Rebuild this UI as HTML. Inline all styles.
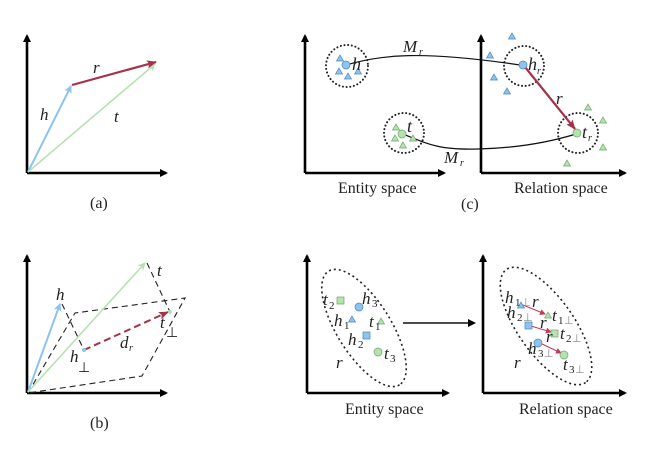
<!DOCTYPE html>
<html><head><meta charset="utf-8"><style>
html,body{margin:0;padding:0;background:#fff;}
svg{display:block;}
text{font-family:"Liberation Serif",serif;fill:#222;}
.i{font-style:italic;}
.n{font-style:normal;}
</style></head><body>
<svg width="651" height="454" viewBox="0 0 651 454" xmlns="http://www.w3.org/2000/svg">
<defs>
<marker id="ak" markerWidth="8" markerHeight="8" refX="6" refY="4" orient="auto" markerUnits="userSpaceOnUse"><path d="M0,0 L8,4 L0,8 z" fill="#000"/></marker>
<marker id="ab" markerWidth="8" markerHeight="8" refX="7" refY="4" orient="auto" markerUnits="userSpaceOnUse"><path d="M0,0 L8,4 L0,8 L2,4 z" fill="#8ec3ec"/></marker>
<marker id="ag" markerWidth="8" markerHeight="8" refX="7" refY="4" orient="auto" markerUnits="userSpaceOnUse"><path d="M0,0 L8,4 L0,8 L2,4 z" fill="#b5e3b0"/></marker>
<marker id="ar" markerWidth="10" markerHeight="8" refX="9" refY="4" orient="auto" markerUnits="userSpaceOnUse"><path d="M0,0 L10,4 L0,8 L2,4 z" fill="#a5324a"/></marker>
<marker id="ars" markerWidth="6" markerHeight="6" refX="5" refY="3" orient="auto" markerUnits="userSpaceOnUse"><path d="M0,0 L6,3 L0,6 z" fill="#c23a5a"/></marker>
</defs>
<g stroke="#000" stroke-width="2.6" fill="none">
<path d="M27,173 V36" marker-end="url(#ak)"/><path d="M27,173 H166" marker-end="url(#ak)"/>
<path d="M27,393 V256" marker-end="url(#ak)"/><path d="M27,393 H166" marker-end="url(#ak)"/>
<path d="M305,173 V36" marker-end="url(#ak)"/><path d="M305,173 H444" marker-end="url(#ak)"/>
<path d="M481,173 V36" marker-end="url(#ak)"/><path d="M481,173 H625" marker-end="url(#ak)"/>
<path d="M307,393 V256" marker-end="url(#ak)"/><path d="M307,393 H448" marker-end="url(#ak)"/>
<path d="M483,393 V256" marker-end="url(#ak)"/><path d="M483,393 H625" marker-end="url(#ak)"/>
</g>
<!-- panel a -->
<line x1="28" y1="172" x2="71" y2="86" stroke="#8ec3ec" stroke-width="2" marker-end="url(#ab)"/>
<line x1="28" y1="172" x2="155" y2="64" stroke="#b5e3b0" stroke-width="1.6" marker-end="url(#ag)"/>
<line x1="72" y1="85" x2="156" y2="62" stroke="#a5324a" stroke-width="2.2" marker-end="url(#ar)"/>
<text x="40" y="120" class="i" font-size="17">h</text>
<text x="93" y="73" class="i" font-size="17">r</text>
<text x="114" y="122" class="i" font-size="17">t</text>
<text x="90" y="208" font-size="16">(a)</text>
<!-- panel b -->
<g stroke="#222" stroke-width="1.1" fill="none" stroke-dasharray="6,4">
<path d="M28,393 L75,313 L185,298 L142,376 Z"/>
<line x1="62" y1="304" x2="84" y2="350"/>
<line x1="147" y1="263" x2="170" y2="312"/>
</g>
<line x1="28" y1="392" x2="60" y2="304" stroke="#8ec3ec" stroke-width="2" marker-end="url(#ab)"/>
<line x1="28" y1="392" x2="145" y2="263" stroke="#b5e3b0" stroke-width="1.6" marker-end="url(#ag)"/>
<line x1="84" y1="350" x2="168" y2="312" stroke="#a5324a" stroke-width="2" stroke-dasharray="7,4" marker-end="url(#ar)"/>
<circle cx="84" cy="350" r="2" fill="#8ec3ec"/><circle cx="170" cy="312" r="2" fill="#b5e3b0"/>
<text x="56" y="300" class="i" font-size="17">h</text>
<text x="157" y="276" class="i" font-size="17">t</text>
<text x="160" y="328" class="i" font-size="17">t</text><text x="166" y="337" font-size="14">⊥</text>
<text x="70" y="362" class="i" font-size="17">h</text><text x="78" y="372" font-size="14">⊥</text>
<text x="120" y="348" class="i" font-size="17">d</text><text x="129" y="351" class="i" font-size="10">r</text>
<text x="90" y="428" font-size="16">(b)</text>
<!-- panel c -->
<g fill="none" stroke="#222" stroke-width="2" stroke-dasharray="0.1,3.6" stroke-linecap="round">
<circle cx="347" cy="66" r="21"/><circle cx="404" cy="133" r="20"/>
<circle cx="524" cy="66" r="20"/><circle cx="578" cy="133" r="20"/>
</g>
<path d="M346,65 C380,55 420,50 520,65" stroke="#111" stroke-width="1.2" fill="none"/>
<path d="M403,134 C430,145 440,150 478,149 C520,148 550,142 576,134" stroke="#111" stroke-width="1.2" fill="none"/>
<line x1="525" y1="67" x2="575" y2="129" stroke="#a5324a" stroke-width="2.2" marker-end="url(#ar)"/>
<g fill="#8ec3ec" stroke="#4a86c0" stroke-width="0.7">
<circle cx="346" cy="65" r="4"/><circle cx="523" cy="65" r="4"/>
<path d="M340,55 l3.5,6 h-7z M339,68 l3.5,6 h-7z M348,73 l3.5,6 h-7z M358,68 l3.5,6 h-7z"/>
<path d="M512,33 l3.5,6 h-7z M490,52 l3.5,6 h-7z M494,74 l3.5,6 h-7z M507,88 l3.5,6 h-7z"/>
</g>
<g fill="#b5e3b0" stroke="#6aa865" stroke-width="0.7">
<circle cx="402" cy="134" r="4"/><circle cx="577" cy="133" r="4"/>
<path d="M396,124 l3.5,6 h-7z M395,135 l3.5,6 h-7z M403,142 l3.5,6 h-7z M413,135 l3.5,6 h-7z"/>
<path d="M588,104 l3.5,6 h-7z M603,117 l3.5,6 h-7z M603,144 l3.5,6 h-7z M567,160 l3.5,6 h-7z"/>
</g>
<text x="352" y="70" class="i" font-size="18">h</text>
<text x="407" y="132" class="i" font-size="18">t</text>
<text x="528" y="70" class="i" font-size="18">h</text><text x="537" y="74" class="i" font-size="10">r</text>
<text x="582" y="138" class="i" font-size="18">t</text><text x="588" y="141" class="i" font-size="10">r</text>
<text x="556" y="104" class="i" font-size="17">r</text>
<text x="403" y="52" class="i" font-size="17">M</text><text x="419" y="55" class="i" font-size="10">r</text>
<text x="444" y="163" class="i" font-size="17">M</text><text x="460" y="166" class="i" font-size="10">r</text>
<text x="338" y="193" font-size="16">Entity space</text>
<text x="514" y="193" font-size="16">Relation space</text>
<text x="461" y="209" font-size="16">(c)</text>
<!-- panel d -->
<g fill="none" stroke="#222" stroke-width="1.6" stroke-dasharray="2,3">
<ellipse cx="364" cy="328" rx="67" ry="27" transform="rotate(58 364 328)"/>
<ellipse cx="546" cy="326" rx="69" ry="28" transform="rotate(55 546 326)"/>
</g>
<line x1="403" y1="323" x2="474" y2="323" stroke="#111" stroke-width="1.5" marker-end="url(#ak)"/>
<g stroke="#c23a5a" stroke-width="1">
<line x1="523" y1="305" x2="545" y2="314" marker-end="url(#ars)"/>
<line x1="531" y1="326" x2="551" y2="332" marker-end="url(#ars)"/>
<line x1="540" y1="343" x2="561" y2="353" marker-end="url(#ars)"/>
</g>
<g fill="#8ec3ec" stroke="#4a86c0" stroke-width="0.7">
<circle cx="359" cy="307" r="4"/><rect x="363" y="332" width="7" height="7"/>
<path d="M352,316 l3.5,6 h-7z"/>
<path d="M521,302 l3.5,6 h-7z"/><rect x="525" y="322" width="7" height="7"/><circle cx="538" cy="343" r="4"/>
</g>
<g fill="#b5e3b0" stroke="#6aa865" stroke-width="0.7">
<rect x="337" y="297" width="7" height="7"/><path d="M381,318 l3.5,6 h-7z"/><circle cx="378" cy="352" r="4"/>
<path d="M548,312 l3.5,6 h-7z"/><rect x="551" y="330" width="7" height="7"/><circle cx="564" cy="355" r="4"/>
</g>
<g font-size="17">
<text x="323" y="305" class="i">t</text><text x="362" y="304" class="i">h</text>
<text x="334" y="326" class="i">h</text><text x="369" y="327" class="i">t</text>
<text x="348" y="345" class="i">h</text><text x="384" y="359" class="i">t</text>
<text x="336" y="368" class="i">r</text>
<text x="505" y="303" class="i">h</text><text x="532" y="307" class="i">r</text>
<text x="507" y="318" class="i">h</text><text x="540" y="328" class="i">r</text>
<text x="552" y="321" class="i">t</text><text x="546" y="342" class="i">r</text>
<text x="560" y="339" class="i">t</text>
<text x="528" y="354" class="i">h</text><text x="563" y="370" class="i">t</text>
<text x="514" y="368" class="i">r</text>
</g>
<g font-size="11">
<text x="329" y="309">2</text><text x="372" y="307">3</text><text x="344" y="329">1</text>
<text x="375" y="330">1</text><text x="358" y="348">2</text><text x="390" y="362">3</text>
<text x="515" y="306">1</text><text x="517" y="321">2</text><text x="558" y="324">1</text>
<text x="566" y="342">2</text><text x="538" y="357">3</text><text x="569" y="373">3</text>
</g>
<g font-size="11">
<text x="521" y="306" style="fill:#888">⊥</text><text x="523" y="321" style="fill:#888">⊥</text>
<text x="564" y="324" style="fill:#888">⊥</text><text x="572" y="342" style="fill:#888">⊥</text>
<text x="544" y="357" style="fill:#888">⊥</text><text x="575" y="373" style="fill:#888">⊥</text>
</g>
<text x="345" y="414" font-size="16">Entity space</text>
<text x="519" y="414" font-size="16">Relation space</text>
</svg>
</body></html>
